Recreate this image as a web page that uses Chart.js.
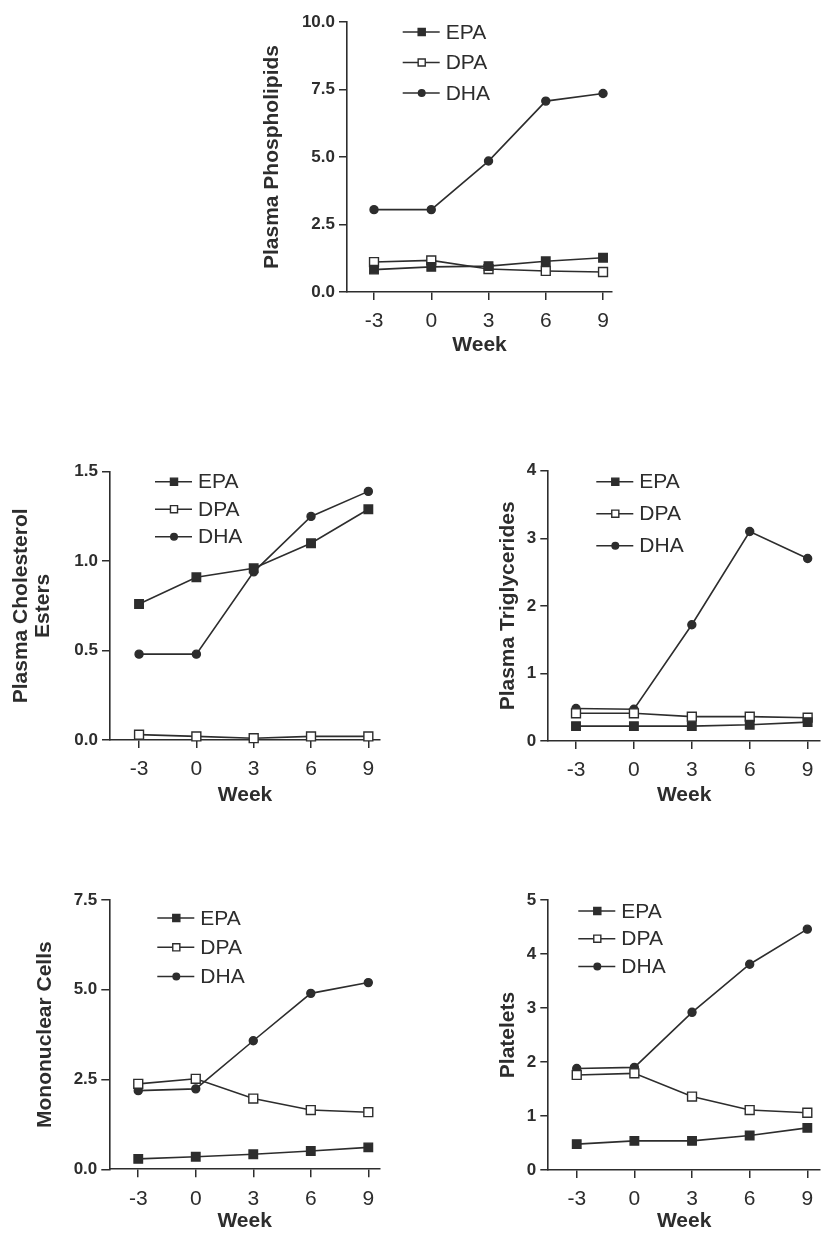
<!DOCTYPE html>
<html>
<head>
<meta charset="utf-8">
<script src="https://cdn.jsdelivr.net/npm/chart.js@4.4.1/dist/chart.umd.min.js"></script>
<style>
  html, body { margin: 0; padding: 0; background: #fff; overflow: hidden; }
  #page { position: relative; width: 821px; height: 1234px; overflow: hidden; }
  #page canvas { position: absolute; }
</style>
</head>
<body>
<div id="page"></div>
<script>
// weeks on the x axis
const weeks = [-3, 0, 3, 6, 9];
const seriesNames = ["EPA", "DPA", "DHA"];

// plasma phospholipids
const phosEPA = [0.83, 0.93, 0.96, 1.14, 1.27];
const phosDPA = [1.11, 1.17, 0.85, 0.78, 0.74];
const phosDHA = [3.05, 3.05, 4.85, 7.07, 7.35];

// plasma cholesterol esters
const cholEPA = [0.76, 0.91, 0.96, 1.10, 1.29];
const cholDPA = [0.03, 0.02, 0.01, 0.02, 0.02];
const cholDHA = [0.48, 0.48, 0.94, 1.25, 1.39];

// plasma triglycerides
const trigEPA = [0.22, 0.22, 0.22, 0.24, 0.28];
const trigDPA = [0.41, 0.41, 0.36, 0.36, 0.345];
const trigDHA = [0.48, 0.47, 1.72, 3.10, 2.70];

// mononuclear cells
const monoEPA = [0.29, 0.35, 0.42, 0.51, 0.61];
const monoDPA = [2.38, 2.52, 1.97, 1.65, 1.59];
const monoDHA = [2.19, 2.24, 3.58, 4.90, 5.20];

// platelets
const platEPA = [0.48, 0.54, 0.54, 0.64, 0.78];
const platDPA = [1.76, 1.79, 1.36, 1.11, 1.06];
const platDHA = [1.88, 1.90, 2.92, 3.81, 4.46];

const panelTitles = [
  "Plasma Phospholipids",
  ["Plasma Cholesterol", "Esters"],
  "Plasma Triglycerides",
  "Mononuclear Cells",
  "Platelets",
];
const panelSeries = [
  [phosEPA, phosDPA, phosDHA],
  [cholEPA, cholDPA, cholDHA],
  [trigEPA, trigDPA, trigDHA],
  [monoEPA, monoDPA, monoDHA],
  [platEPA, platDPA, platDHA],
];
// y tick settings: max, step, decimals
const yMax = [10, 1.5, 4, 7.5, 5];
const yStep = [2.5, 0.5, 1, 2.5, 1];
const yDecimals = [1, 1, 0, 1, 0];

// where each panel sits on the page (plot = [left, right, top, bottom])
const layouts = [
  { left: 230, top: 0,   w: 400, h: 360, plot: [347, 612, 22, 292],     xr: [-4.415, 9.47], titleX: 272, titleLH: 1.2,  weekY: 345,  leg: [55.7, 10, 30.5] },
  { left: 0,   top: 440, w: 400, h: 380, plot: [110, 380, 471.7, 740],  xr: [-4.52, 9.61],  titleX: 21.7, titleLH: 1.03, weekY: 795, leg: [45, 10, 27.5] },
  { left: 420, top: 440, w: 420, h: 380, plot: [548.3, 820, 470.7, 741], xr: [-4.435, 9.64], titleX: 508, titleLH: 1.2,  weekY: 795,  leg: [48, 11, 32] },
  { left: 0,   top: 860, w: 400, h: 374, plot: [109.3, 380, 900, 1169.3], xr: [-4.51, 9.61], titleX: 45,  titleLH: 1.2,  weekY: 1222, leg: [48, 18, 29.3] },
  { left: 420, top: 860, w: 420, h: 374, plot: [548.3, 820, 900, 1170],  xr: [-4.48, 9.66],  titleX: 508, titleLH: 1.2,  weekY: 1222, leg: [30, 11, 27.7] },
];

const ink = "#2d2d2d";
const fontFamily = "'Liberation Sans', Arial, Helvetica, sans-serif";
const styles = [
  { pointStyle: "rect", pointRadius: 6, pointBackgroundColor: ink },
  { pointStyle: "rect", pointRadius: 6.3, pointBackgroundColor: "#fff" },
  { pointStyle: "circle", pointRadius: 4, pointBackgroundColor: ink },
];

function drawMarker(ctx, style, x, y, r) {
  ctx.beginPath();
  if (style.pointStyle === "rect") {
    const s = Math.SQRT1_2 * r;
    ctx.rect(x - s, y - s, 2 * s, 2 * s);
  } else {
    ctx.arc(x, y, r, 0, Math.PI * 2);
  }
  ctx.fillStyle = style.pointBackgroundColor;
  ctx.fill();
  ctx.lineWidth = 1.4;
  ctx.strokeStyle = ink;
  ctx.stroke();
}

// legend drawn inside the plot area, line with marker in the middle
const innerLegend = {
  id: "innerLegend",
  afterDraw(chart, args, opts) {
    const { ctx, chartArea } = chart;
    const [dx, dy, gap] = opts.pos;
    ctx.save();
    chart.data.datasets.forEach((ds, i) => {
      const x0 = chartArea.left + dx;
      const y = chartArea.top + dy + i * gap;
      ctx.beginPath();
      ctx.moveTo(x0, y);
      ctx.lineTo(x0 + 37, y);
      ctx.lineWidth = 1.5;
      ctx.strokeStyle = ink;
      ctx.stroke();
      drawMarker(ctx, styles[i], x0 + 19, y, styles[i].pointStyle === "rect" ? 5 : 3.3);
      ctx.fillStyle = ink;
      ctx.font = "21px " + fontFamily;
      ctx.textBaseline = "middle";
      ctx.textAlign = "left";
      ctx.fillText(ds.label, x0 + 43, y + 1);
    });
    ctx.restore();
  },
};

const page = document.getElementById("page");

layouts.forEach((L, p) => {
  const canvas = document.createElement("canvas");
  canvas.width = L.w;
  canvas.height = L.h;
  canvas.style.left = L.left + "px";
  canvas.style.top = L.top + "px";
  canvas.style.width = L.w + "px";
  canvas.style.height = L.h + "px";
  page.appendChild(canvas);

  const [pl, pr, pt, pb] = L.plot;
  const axisW = pl - L.left;
  const axisH = L.top + L.h - pb;
  const titleSize = 21;
  const yTitlePad = L.titleX - L.left - (titleSize * L.titleLH) / 2;
  const weekPad = Math.max(L.top + L.h - L.weekY - (titleSize * 1.2) / 2, 0);

  new Chart(canvas, {
    type: "line",
    data: {
      datasets: panelSeries[p].map((vals, i) => ({
        label: seriesNames[i],
        data: weeks.map((w, k) => ({ x: w, y: vals[k] })),
        borderColor: ink,
        borderWidth: 1.6,
        pointBorderColor: ink,
        pointBorderWidth: 1.4,
        pointHoverRadius: styles[i].pointRadius,
        clip: false,
        ...styles[i],
      })),
    },
    options: {
      responsive: false,
      animation: false,
      devicePixelRatio: 1,
      layout: { padding: { top: pt - L.top, right: L.left + L.w - pr, left: 0, bottom: 0 } },
      plugins: {
        legend: { display: false },
        tooltip: { enabled: false },
        innerLegend: { pos: L.leg },
      },
      scales: {
        x: {
          type: "linear",
          min: L.xr[0],
          max: L.xr[1],
          afterBuildTicks: (scale) => {
            scale.ticks = weeks.map((v) => ({ value: v }));
          },
          afterFit: (scale) => {
            scale.height = axisH;
            scale.paddingLeft = 0;
            scale.paddingRight = 0;
          },
          grid: { drawOnChartArea: false, tickLength: 8, color: ink, lineWidth: 1.5 },
          border: { color: ink, width: 1.6 },
          ticks: { color: ink, padding: 9, maxRotation: 0, font: { family: fontFamily, size: 21 } },
          title: {
            display: true,
            text: "Week",
            color: ink,
            padding: { top: 0, bottom: weekPad },
            font: { family: fontFamily, size: 21, weight: "bold" },
          },
        },
        y: {
          min: 0,
          max: yMax[p],
          afterFit: (scale) => {
            scale.width = axisW;
            scale.paddingTop = 0;
            scale.paddingBottom = 0;
          },
          grid: { drawOnChartArea: false, tickLength: 8, color: ink, lineWidth: 1.5 },
          border: { color: ink, width: 1.6 },
          ticks: {
            color: ink,
            padding: 4,
            stepSize: yStep[p],
            font: { family: fontFamily, size: 17, weight: "bold" },
            callback: (v) => Number(v).toFixed(yDecimals[p]),
          },
          title: {
            display: true,
            text: panelTitles[p],
            color: ink,
            padding: { top: yTitlePad, bottom: 0 },
            font: { family: fontFamily, size: titleSize, weight: "bold", lineHeight: L.titleLH },
          },
        },
      },
    },
    plugins: [innerLegend],
  });
});
</script>
</body>
</html>
